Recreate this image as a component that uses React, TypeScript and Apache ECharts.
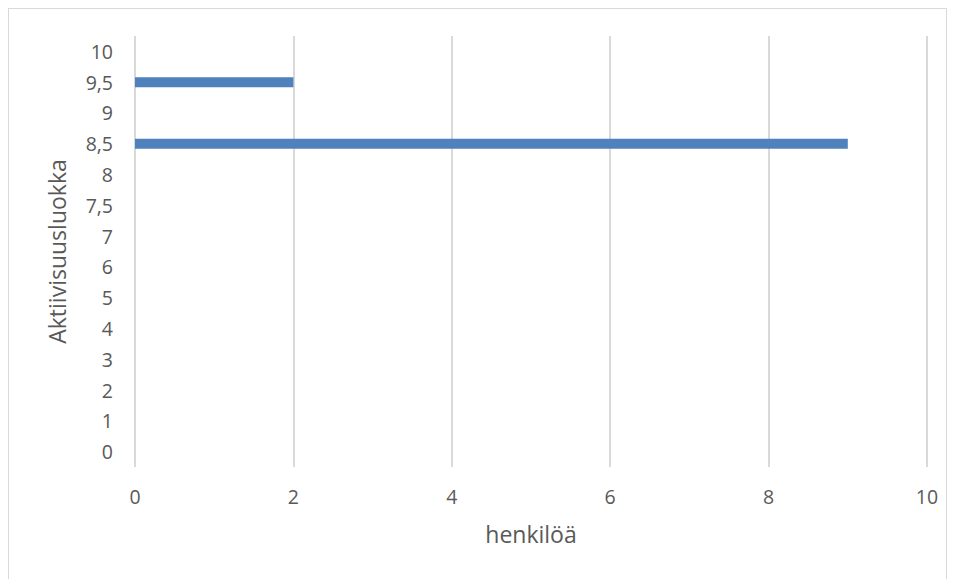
import React, { useEffect, useRef } from "react";
import * as echarts from "echarts";

const categories = ["0", "1", "2", "3", "4", "5", "6", "7", "7,5", "8", "8,5", "9", "9,5", "10"];
const values = [0, 0, 0, 0, 0, 0, 0, 0, 0, 0, 9, 0, 2, 0];
const xTicks = { min: 0, max: 10, interval: 2 };
const xAxisTitle = "henkilöä";
const yAxisTitle = "Aktiivisuusluokka";

const FONT = "'Open Sans', sans-serif";
const TEXT = "#595959";

export default function App() {
  const ref = useRef<HTMLDivElement>(null);
  useEffect(() => {
    if (!ref.current) return;
    const chart = echarts.init(ref.current, undefined, { renderer: "svg" });
    chart.setOption({
      animation: false,
      backgroundColor: "#ffffff",
      grid: { left: 126, right: 19, top: 27, bottom: 120, containLabel: false, outerBoundsMode: "none" },
      xAxis: {
        type: "value",
        min: xTicks.min,
        max: xTicks.max,
        interval: xTicks.interval,
        name: xAxisTitle,
        nameLocation: "middle",
        nameGap: 55,
        nameTextStyle: { fontFamily: FONT, fontSize: 23, color: TEXT },
        axisLine: { show: false },
        axisTick: { show: false },
        axisLabel: { fontFamily: FONT, fontSize: 19.5, color: TEXT, margin: 19 },
        splitLine: { show: true, lineStyle: { color: "#d9d9d9", width: 2 } },
      },
      yAxis: {
        type: "category",
        data: categories,
        name: yAxisTitle,
        nameLocation: "middle",
        nameGap: 67,
        nameTextStyle: { fontFamily: FONT, fontSize: 23, color: TEXT },
        axisLine: { show: false },
        axisTick: { show: false },
        axisLabel: { fontFamily: FONT, fontSize: 19.5, color: TEXT, margin: 22 },
        splitLine: { show: false },
      },
      series: [
        {
          type: "bar",
          data: values,
          barWidth: 10,
          itemStyle: { color: "#4f81bd" },
        },
      ],
    });
    return () => chart.dispose();
  }, []);
  return (
    <div
      style={{
        width: 939,
        height: 580,
        border: "1px solid #d9d9d9",
        boxSizing: "border-box",
        background: "#fff",
      }}
    >
      <div ref={ref} style={{ width: 937, height: 578 }} />
    </div>
  );
}
